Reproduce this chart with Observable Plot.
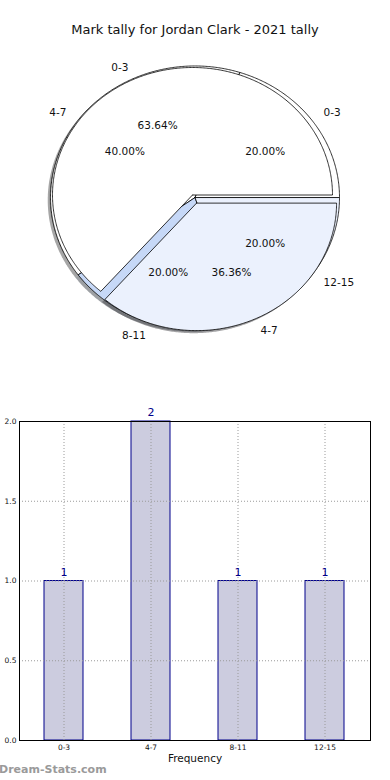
<!DOCTYPE html>
<html><head><meta charset="utf-8">
<script src="https://cdn.jsdelivr.net/npm/d3@7"></script>
<script src="https://cdn.jsdelivr.net/npm/@observablehq/plot@0.6"></script>
<style>
body{margin:0;background:#fff;font-family:"DejaVu Sans",sans-serif;}
#wrap{position:relative;width:390px;height:780px;overflow:hidden;background:#fff;}
#title{position:absolute;left:0;top:21px;width:390px;text-align:center;font-size:13px;color:#111;line-height:18px;}
#pie{position:absolute;left:0;top:0;}
#bar{position:absolute;left:0;top:400px;}
#wm{position:absolute;left:-1px;top:763px;font-size:11px;font-weight:bold;color:#9a9a9a;line-height:14px;}
</style></head>
<body><div id="wrap"><div id="pie"></div><div id="title">Mark tally for Jordan Clark - 2021 tally</div><div id="bar"></div><div id="wm">Dream-Stats.com</div></div>
<script>
// ---- data ----
const pie1Cats = ["0-3", "4-7"];
const pie1Vals = [7, 4];
const pie2Cats = ["0-3", "4-7", "8-11", "12-15"];
const pie2Vals = [1, 2, 1, 1];
const barCats = ["0-3", "4-7", "8-11", "12-15"];
const barVals = [1, 2, 1, 1];
const yTicks = [0, 0.5, 1, 1.5, 2];

// ---- styles / layout ----
const pie1Colors = ["#ffffff", "#ebf1fd"];
const pie1Explode = [0, 0.07];
const pie2Colors = ["#ffffff", "#ffffff", "#c6d8f7", "#ebf1fd"];
const pie2Explode = [0, 0, 0, 0];
const pie2Center = [0.018, -0.02];
const pie2Radius = 1.032;
const CX = 192, CY = 194.5, RX = 140, RY = 127.5, PIEH = 380;

function wedges(cats, vals, colors, explode, c, r) {
  const arcs = d3.pie().sort(null).startAngle(0).endAngle(2 * Math.PI)(vals);
  const total = d3.sum(vals);
  return arcs.map((a, i) => {
    const a0 = a.startAngle, a1 = a.endAngle, mid = (a0 + a1) / 2;
    const ox = c[0] + explode[i] * Math.cos(mid), oy = c[1] + explode[i] * Math.sin(mid);
    const pts = [[ox, oy]];
    const n = Math.max(4, Math.ceil((a1 - a0) / 0.01));
    for (let k = 0; k <= n; k++) {
      const t = a0 + (a1 - a0) * k / n;
      pts.push([ox + r * Math.cos(t), oy + r * Math.sin(t)]);
    }
    pts.push([ox, oy]);
    return {cat: cats[i], pct: (vals[i] / total * 100).toFixed(2) + "%", mid, ox, oy, r, pts, color: colors[i]};
  });
}
const W1 = wedges(pie1Cats, pie1Vals, pie1Colors, pie1Explode, [0, 0], 1);
const W2 = wedges(pie2Cats, pie2Vals, pie2Colors, pie2Explode, pie2Center, pie2Radius);

function shade(col) {
  const c = d3.rgb(col);
  return d3.rgb(c.r * 0.3, c.g * 0.3, c.b * 0.3).formatHex();
}
const marks = [];
for (const w of [...W2, ...W1]) {
  marks.push(Plot.line(w.pts, {x: d => d[0] - 0.02, y: d => d[1] - 0.02, fill: shade(w.color), fillOpacity: 0.5, stroke: "none", curve: "linear"}));
}
for (const w of [...W2, ...W1]) {
  marks.push(Plot.line(w.pts, {x: d => d[0], y: d => d[1], fill: w.color, stroke: "#000", strokeWidth: 0.8, curve: "linear", strokeLinejoin: "miter"}));
}
const labels = [];
for (const w of [...W1, ...W2]) {
  const lx = w.ox + 1.1 * w.r * Math.cos(w.mid), ly = w.oy + 1.1 * w.r * Math.sin(w.mid);
  labels.push({x: lx, y: ly, t: w.cat, anchor: Math.cos(w.mid) < 0 ? "end" : "start"});
  labels.push({x: w.ox + 0.6 * w.r * Math.cos(w.mid), y: w.oy + 0.6 * w.r * Math.sin(w.mid), t: w.pct, anchor: "middle"});
}
for (const anchor of ["start", "middle", "end"]) {
  marks.push(Plot.text(labels.filter(d => d.anchor === anchor), {x: "x", y: "y", text: "t", textAnchor: anchor, fontSize: 10.5, fill: "#111"}));
}

const pie = Plot.plot({
  width: 390, height: PIEH, margin: 0,
  style: {fontFamily: "DejaVu Sans", background: "transparent"},
  x: {domain: [-CX / RX, (390 - CX) / RX], axis: null},
  y: {domain: [-(PIEH - CY) / RY, CY / RY], axis: null},
  marks
});
document.getElementById("pie").appendChild(pie);

// ---- bar chart ----
const barData = barCats.map((c, i) => ({cat: c, n: barVals[i]}));
const gridStyle = {stroke: "#9a9a9a", strokeOpacity: 1, strokeDasharray: "1,2"};
const bar = Plot.plot({
  width: 390, height: 380, marginLeft: 19, marginRight: 20, marginTop: 21, marginBottom: 40,
  style: {fontFamily: "DejaVu Sans", background: "transparent", color: "#111"},
  x: {type: "band", domain: barCats, paddingInner: 0.55, paddingOuter: 0.275, label: null},
  y: {domain: [0, 2], label: null},
  marks: [
    Plot.barY(barData, {x: "cat", y: "n", fill: "#ccccdf", stroke: "#00008b", strokeWidth: 1}),
    Plot.gridY([0.5, 1, 1.5], gridStyle),
    Plot.gridX(gridStyle),
    Plot.text(barData, {x: "cat", y: "n", text: d => String(d.n), dy: -9, fill: "#00008b", fontSize: 11}),
    Plot.frame({stroke: "#000"}),
    Plot.axisY({ticks: yTicks, tickFormat: d3.format(".1f"), tickSize: 0, tickPadding: 3, fontSize: 7.5, label: null}),
    Plot.axisX({tickSize: 0, tickPadding: 4, fontSize: 7.5, label: null}),
    Plot.text(["Frequency"], {text: d => d, frameAnchor: "bottom", dy: 21, fontSize: 10.5, fill: "#111"})
  ]
});
document.getElementById("bar").appendChild(bar);
</script>
</body></html>
